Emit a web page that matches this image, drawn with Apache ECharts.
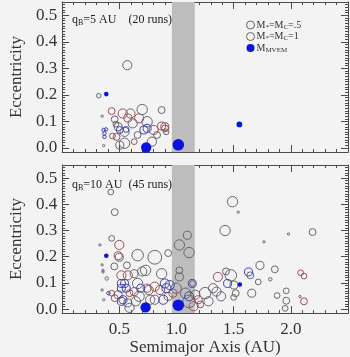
<!DOCTYPE html>
<html><head><meta charset="utf-8">
<script src="https://cdn.jsdelivr.net/npm/echarts@6/dist/echarts.min.js"></script>
<style>html,body{margin:0;padding:0;background:#f3f3f3}#c{width:350px;height:357px}</style>
</head><body><div id="c"></div>
<script>
// ---- data: [semimajor axis (AU), eccentricity, relative planet size] ----
var top_half = [[0.433,0.139,6],[0.53,0.13,8],[0.597,0.13,8],[0.575,0.113,7],[0.476,0.042,6],[0.673,0.112,8],[0.80,0.068,8],[0.87,0.083,7],[0.898,0.08,7],[0.90,0.074,6],[0.63,0.024,5],[0.44,0.045,5]];
var top_one = [[0.57,0.312,8],[0.32,0.197,4],[0.35,0.12,2],[0.363,0.009,2],[0.46,0.108,6],[0.70,0.145,9],[0.87,0.143,6],[0.49,0.08,7],[0.546,0.061,8],[0.546,0.018,9],[0.504,0.011,7],[0.617,0.093,8],[0.66,0.049,6],[0.743,0.099,9],[0.785,0.024,8],[0.83,0.049,6],[0.91,0.061,5],[0.47,0.09,5]];
var top_blue = [[0.363,0.068,3],[0.383,0.07,3],[0.37,0.055,3],[0.37,0.042,3],[0.504,0.068,6],[0.715,0.068,7],[0.743,0.074,7],[0.56,0.07,5]];
var top_mvem = [[0.386,0.203,4],[0.735,0.002,9],[1.016,0.012,10],[1.55,0.089,5]];

var bot_half = [[0.50,0.245,8],[0.49,0.204,7],[0.518,0.129,8],[0.574,0.129,8],[0.433,0.061,5],[0.46,0.042,6],[0.589,0.061,6],[0.81,0.086,8],[0.856,0.073,8],[0.969,0.061,7],[0.743,0.08,7],[0.63,0.067,7],[1.362,0.123,8],[1.19,0.036,7],[1.208,0.018,6],[1.15,0.011,8],[2.086,0.139,5],[2.115,0.126,5],[2.08,0.048,2],[2.115,0.03,6]];
var bot_one = [[0.425,0.447,5],[0.46,0.37,6],[0.33,0.245,2],[0.433,0.27,5],[0.50,0.198,7],[0.66,0.206,10],[0.81,0.198,12],[0.927,0.214,6],[1.025,0.245,9],[1.095,0.282,7],[1.11,0.216,9],[1.49,0.41,9],[1.54,0.37,2],[1.425,0.30,9],[1.765,0.257,2],[1.98,0.287,2],[2.19,0.294,6],[0.35,0.169,2],[0.357,0.148,2],[0.357,0.142,2],[0.39,0.117,3],[0.35,0.073,2],[0.363,0.036,2],[0.456,0.163,6],[0.566,0.167,6],[0.63,0.135,7],[0.70,0.144,8],[0.73,0.148,9],[0.87,0.135,9],[1.025,0.148,6],[1.025,0.123,7],[1.14,0.098,5],[0.574,0.024,7],[0.589,0.005,8],[0.66,0.098,9],[0.673,0.049,9],[0.757,0.073,8],[0.77,0.036,8],[0.927,0.049,7],[0.997,0.08,9],[1.08,0.061,9],[1.11,0.03,11],[0.81,0.036,8],[0.645,0.03,8],[0.49,0.055,7],[1.73,0.167,7],[1.86,0.152,6],[1.82,0.114,3],[1.715,0.104,5],[1.645,0.129,6],[1.433,0.144,6],[1.475,0.129,10],[1.503,0.092,7],[1.518,0.061,6],[1.50,0.045,5],[1.658,0.061,7],[1.32,0.08,8],[1.25,0.061,10],[1.35,0.067,8],[1.39,0.049,8],[1.28,0.03,8],[1.165,0.055,8],[1.88,0.052,5],[1.96,0.07,5],[1.96,0.032,6],[1.95,0.003,5]];
var bot_blue = [[0.405,0.061,3],[0.518,0.098,7],[0.546,0.098,7],[0.56,0.08,7],[0.518,0.08,7],[0.532,0.036,7],[0.518,0.03,7],[0.687,0.08,7],[0.898,0.098,8],[0.912,0.08,8],[0.94,0.092,8],[0.884,0.036,8],[1.138,0.098,7],[1.11,0.049,8],[1.63,0.142,7],[1.447,0.098,7]];
var bot_mvem = [[0.386,0.204,4],[0.73,0.007,9],[1.016,0.015,10],[1.554,0.094,4]];

var band = [0.96, 1.16];               // shaded region in a (AU)
var xTickLabels = [0.5, 1.0, 1.5, 2.0];
var yTickLabels = [0.0, 0.1, 0.2, 0.3, 0.4, 0.5];
var panelLabels = [['5', '20'], ['10', '45']];

var C_HALF = '#9a5058', C_ONE = '#66666e', C_BLUE = '#3d41aa', C_MVEM = '#0a12e0';
var SERIF = '"Liberation Serif","DejaVu Serif",serif';
var AX = '#4a4a4a';

var yMinor = [];
for (var k = 0; k <= 54; k++) yMinor.push(+(k * 0.01).toFixed(2));

function xAx(grid, pos, labels) {
  return {
    type: 'value', gridIndex: grid, position: pos, min: 0, max: 2.5, interval: 0.5,
    axisLine: {show: true, onZero: false, lineStyle: {color: AX}},
    axisTick: {show: true, inside: true, length: 7, lineStyle: {color: AX}},
    minorTick: {show: true, splitNumber: 5, length: 3, lineStyle: {color: AX}},
    splitLine: {show: false},
    axisLabel: labels ? {show: true, customValues: xTickLabels, margin: 8, fontFamily: SERIF, fontSize: 17, color: '#333',
      formatter: function (v) { return v.toFixed(1); }} : {show: false},
    name: labels ? 'Semimajor Axis (AU)' : '', nameLocation: 'middle', nameGap: 25,
    nameTextStyle: {fontFamily: SERIF, fontSize: 17, color: '#333'}
  };
}
function yAx(grid, pos, labels, minor) {
  return {
    type: 'value', gridIndex: grid, position: pos, min: -0.015, max: 0.55,
    axisLine: {show: !minor, onZero: false, lineStyle: {color: AX}},
    axisTick: {show: true, inside: true, length: minor ? 3 : 7, customValues: minor ? yMinor : yTickLabels, lineStyle: {color: AX}},
    splitLine: {show: false},
    axisLabel: labels ? {show: true, customValues: yTickLabels, margin: 5, fontFamily: SERIF, fontSize: 17, color: '#333',
      formatter: function (v) { return v.toFixed(1); }} : {show: false},
    name: labels ? 'Eccentricity' : '', nameLocation: 'middle', nameGap: 33, nameRotate: 90,
    nameTextStyle: {fontFamily: SERIF, fontSize: 17, color: '#333'}
  };
}

function sc(name, data, xi, yi, color, filled, z) {
  return {
    type: 'scatter', name: name, data: data, xAxisIndex: xi, yAxisIndex: yi, z: z || 3,
    symbol: 'circle', symbolSize: function (v) { return v[2] * 1.15; },
    itemStyle: filled ? {color: color, borderWidth: 0, opacity: 1} : {color: 'rgba(0,0,0,0)', borderColor: color, borderWidth: 1, opacity: 1},
    emphasis: {disabled: true}, animation: false
  };
}
function bandSeries(xi, yi) {
  return {
    type: 'scatter', data: [], xAxisIndex: xi, yAxisIndex: yi, z: 1, silent: true,
    markArea: {silent: true, itemStyle: {color: '#bdbdbd'}, data: [[{xAxis: band[0], yAxis: -0.015}, {xAxis: band[1], yAxis: 0.55}]]}
  };
}

var rich = {
  m: {fontFamily: SERIF, fontSize: 10, color: '#333'},
  s: {fontFamily: SERIF, fontSize: 7, color: '#333', verticalAlign: 'bottom', padding: [4, 0, 0, 0]}
};
var legendText = {
  'half': '{m|M}{s|*}{m|=M}{s|C}{m|=.5}',
  'one': '{m|M}{s|*}{m|=M}{s|C}{m|=1}',
  'mvem': '{m|M}{s|MVEM}'
};

function panelText(i, top) {
  return {
    type: 'text', left: 72, top: top, z: 100,
    style: {
      text: '{q|q}{b|B}{t|=' + panelLabels[i][0] + ' AU' + (i === 0 ? '    ' : '  ') + '(' + panelLabels[i][1] + ' runs)}',
      rich: {
        q: {fontFamily: SERIF, fontSize: 12, fill: '#222'},
        b: {fontFamily: SERIF, fontSize: 8, fill: '#222', padding: [5, 0, 0, 0]},
        t: {fontFamily: SERIF, fontSize: 12, fill: '#222'}
      }
    }
  };
}

var chart = echarts.init(document.getElementById('c'), null, {renderer: 'canvas'});
chart.setOption({
  backgroundColor: '#f3f3f3',
  animation: false,
  grid: [
    {left: 52, top: 2, width: 296, height: 150},
    {left: 52, top: 165, width: 296, height: 151}
  ],
  xAxis: [xAx(0, 'bottom', false), xAx(0, 'top', false), xAx(1, 'bottom', true), xAx(1, 'top', false)],
  yAxis: [yAx(0, 'left', true, false), yAx(0, 'right', false, false), yAx(0, 'left', false, true), yAx(0, 'right', false, true),
          yAx(1, 'left', true, false), yAx(1, 'right', false, false), yAx(1, 'left', false, true), yAx(1, 'right', false, true)],
  legend: {
    orient: 'vertical', left: 241, top: 15, itemWidth: 8, itemHeight: 8, itemGap: 1,
    icon: 'circle', selectedMode: false,
    data: [
      {name: 'half', itemStyle: {color: 'rgba(0,0,0,0)', borderColor: '#6a6065', borderWidth: 1}},
      {name: 'one', itemStyle: {color: 'rgba(0,0,0,0)', borderColor: '#666', borderWidth: 1}},
      {name: 'mvem', itemStyle: {color: C_MVEM}}
    ],
    formatter: function (n) { return legendText[n]; },
    textStyle: {rich: rich, padding: [0, 0, 0, -3]}
  },
  graphic: [panelText(0, 14), panelText(1, 179)],
  series: [
    bandSeries(0, 0),
    sc('one', top_one, 0, 0, C_ONE, false),
    sc('half', top_half, 0, 0, C_HALF, false),
    sc('blue0', top_blue, 0, 0, C_BLUE, false),
    sc('mvem', top_mvem, 0, 0, C_MVEM, true, 5),
    bandSeries(2, 4),
    sc('one', bot_one, 2, 4, C_ONE, false),
    sc('half', bot_half, 2, 4, C_HALF, false),
    sc('blue1', bot_blue, 2, 4, C_BLUE, false),
    sc('mvem', bot_mvem, 2, 4, C_MVEM, true, 5)
  ]
});
</script></body></html>
